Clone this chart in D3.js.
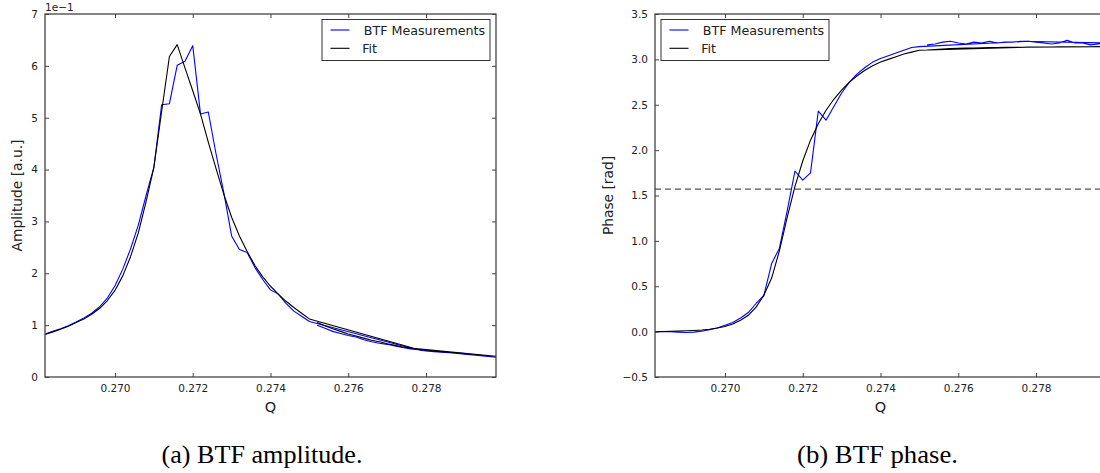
<!DOCTYPE html>
<html>
<head>
<meta charset="utf-8">
<script src="https://cdn.jsdelivr.net/npm/d3@7"></script>
<style>
  html, body { margin: 0; padding: 0; background: #fff; }
  svg { display: block; }
  text { font-family: "DejaVu Sans", sans-serif; fill: #222; }
  .caption { font-family: "Liberation Serif", "Times New Roman", serif; fill: #000; }
</style>
</head>
<body>
<svg id="chart" width="1100" height="473"></svg>
<script>
// ---- data (drawn order of the sweep) ----
const q = [0.2682,0.2684,0.2686,0.2688,0.2690,0.2692,0.2694,0.2696,0.2698,0.2700,
           0.2702,0.2704,0.2706,0.2708,0.2710,0.2712,0.2714,0.2716,0.2718,0.2720,
           0.2722,0.2724,0.2726,0.2728,0.2730,0.2732,0.2734,0.2736,0.2738,0.2740,
           0.2742,0.2744,0.2746,0.2748,0.2750,
           0.2778,0.2780,0.2782,0.2784,0.2786,0.2788,0.2790,0.2792,0.2794,0.2796,0.2798,
           0.2776,0.2774,0.2772,0.2770,0.2768,0.2766,0.2764,0.2762,0.2760,0.2758,0.2756,0.2754,0.2752];

// amplitude in units of 1e-1
const ampMeas = [0.83,0.88,0.93,0.99,1.06,1.14,1.23,1.35,1.52,1.76,
                 2.08,2.47,2.93,3.50,4.04,5.25,5.27,6.01,6.09,6.39,
                 5.07,5.11,4.30,3.55,2.72,2.46,2.40,2.11,1.88,1.68,
                 1.60,1.42,1.27,1.17,1.07,
                 0.52,0.50,0.49,0.48,0.47,0.46,0.45,0.43,0.42,0.40,0.38,
                 0.54,0.57,0.60,0.63,0.65,0.68,0.72,0.77,0.80,0.84,0.88,0.94,1.00];
const ampFit  = [0.82,0.87,0.92,0.98,1.05,1.12,1.21,1.32,1.47,1.67,
                 1.95,2.32,2.78,3.38,4.04,5.12,6.18,6.41,5.96,5.52,
                 5.07,4.53,4.02,3.52,3.08,2.72,2.42,2.15,1.93,1.75,
                 1.60,1.46,1.34,1.23,1.12,
                 0.53,0.52,0.50,0.49,0.48,0.47,0.45,0.44,0.43,0.41,0.40,
                 0.56,0.58,0.61,0.64,0.68,0.71,0.75,0.79,0.83,0.88,0.93,0.99,1.05];

const phaseMeas = [0.00,0.00,0.00,-0.005,-0.01,-0.005,0.005,0.02,0.04,0.07,
                   0.10,0.15,0.21,0.31,0.40,0.75,0.92,1.33,1.77,1.67,
                   1.75,2.43,2.33,2.48,2.63,2.75,2.84,2.91,2.97,3.01,
                   3.04,3.07,3.10,3.13,3.14,
                   3.20,3.19,3.18,3.17,3.18,3.21,3.18,3.18,3.16,3.17,3.18,
                   3.20,3.19,3.19,3.18,3.20,3.18,3.19,3.17,3.18,3.20,3.19,3.17,3.16];
const phaseFit  = [0.000,0.002,0.004,0.006,0.009,0.013,0.018,0.027,0.040,0.057,
                   0.085,0.125,0.18,0.27,0.40,0.59,0.89,1.26,1.60,1.88,
                   2.11,2.29,2.44,2.56,2.66,2.75,2.82,2.88,2.93,2.97,
                   3.00,3.03,3.06,3.08,3.10,
                   3.135,3.136,3.137,3.137,3.138,3.138,3.139,3.139,3.139,3.140,3.140,
                   3.134,3.133,3.132,3.131,3.130,3.128,3.126,3.124,3.121,3.118,3.114,3.109,3.104];

const halfPi = 1.5708;

const xTicks = [0.270, 0.272, 0.274, 0.276, 0.278];
const ampTicks = [0,1,2,3,4,5,6,7];
const phaseTicks = [-0.5,0.0,0.5,1.0,1.5,2.0,2.5,3.0,3.5];
const qDomain = [0.2682, 0.2798];
const legendLabels = ["BTF Measurements", "Fit"];
const captions = ["(a) BTF amplitude.", "(b) BTF phase."];

// ---- drawing ----
const svg = d3.select("#chart");
const spineColor = "#444";

function panel(cfg) {
  const {x0, x1, y0, y1, yDomain, yTicks, yFmt, meas, fit, ylabel, legendX, id} = cfg;
  const x = d3.scaleLinear().domain(qDomain).range([x0, x1]);
  const y = d3.scaleLinear().domain(yDomain).range([y1, y0]);
  const g = svg.append("g");

  g.append("clipPath").attr("id", "clip" + id)
    .append("rect").attr("x", x0).attr("y", y0).attr("width", x1 - x0).attr("height", y1 - y0);

  const plot = g.append("g").attr("clip-path", `url(#clip${id})`);
  const line = (vals) => d3.line().x((d, i) => x(q[i])).y(d => y(d))(vals);

  if (cfg.hline !== undefined) {
    plot.append("line")
      .attr("x1", x0).attr("x2", x1)
      .attr("y1", y(cfg.hline)).attr("y2", y(cfg.hline))
      .attr("stroke", "#555").attr("stroke-width", 1.3)
      .attr("stroke-dasharray", "6,4");
  }
  plot.append("path").attr("d", line(meas))
    .attr("fill", "none").attr("stroke", "#0000ff").attr("stroke-width", 1.1)
    .attr("stroke-linejoin", "round");
  plot.append("path").attr("d", line(fit))
    .attr("fill", "none").attr("stroke", "#000").attr("stroke-width", 1.1)
    .attr("stroke-linejoin", "round");

  // axes (inward ticks on all sides)
  const bottom = g.append("g").attr("transform", `translate(0,${y1})`)
    .call(d3.axisBottom(x).tickValues(xTicks).tickFormat(d3.format(".3f")).tickSizeInner(-4).tickSizeOuter(0).tickPadding(8));
  const top = g.append("g").attr("transform", `translate(0,${y0})`)
    .call(d3.axisTop(x).tickValues(xTicks).tickFormat("").tickSizeInner(-4).tickSizeOuter(0));
  const left = g.append("g").attr("transform", `translate(${x0},0)`)
    .call(d3.axisLeft(y).tickValues(yTicks).tickFormat(yFmt).tickSizeInner(-4).tickSizeOuter(0).tickPadding(7));
  const right = g.append("g").attr("transform", `translate(${x1},0)`)
    .call(d3.axisRight(y).tickValues(yTicks).tickFormat("").tickSizeInner(-4).tickSizeOuter(0));
  [bottom, top, left, right].forEach(a => {
    a.select(".domain").remove();
    a.selectAll("line").attr("stroke", spineColor).attr("stroke-width", 1);
    a.selectAll("text").attr("font-size", 10.5).attr("fill", "#222")
      .attr("font-family", "DejaVu Sans, sans-serif");
  });
  // spines
  g.append("rect").attr("x", x0).attr("y", y0).attr("width", x1 - x0).attr("height", y1 - y0)
    .attr("fill", "none").attr("stroke", spineColor).attr("stroke-width", 1.3);

  // axis labels
  g.append("text").attr("x", (x0 + x1) / 2).attr("y", 412).attr("text-anchor", "middle")
    .attr("font-size", 14.5).text("Q");
  g.append("text")
    .attr("transform", `translate(${cfg.ylabelX},${(y0 + y1) / 2}) rotate(-90)`)
    .attr("text-anchor", "middle").attr("dy", "0.35em").attr("font-size", 13.8).text(ylabel);

  // legend
  const lg = g.append("g");
  lg.append("rect").attr("x", legendX).attr("y", 19.5).attr("width", 168).attr("height", 41)
    .attr("fill", "#fff").attr("stroke", "#333").attr("stroke-width", 1);
  const colors = ["#0000ff", "#000"];
  legendLabels.forEach((lab, i) => {
    const ly = 30 + i * 18.3;
    lg.append("line").attr("x1", legendX + 8.5).attr("x2", legendX + 27.5)
      .attr("y1", ly).attr("y2", ly).attr("stroke", colors[i]).attr("stroke-width", 1.1);
    lg.append("text").attr("x", legendX + (i === 0 ? 41.7 : 40.2)).attr("y", ly).attr("dy", "0.36em")
      .attr("font-size", 12.7).text(lab);
  });
  return {x, y, g};
}

const A = panel({id: "a", x0: 45, x1: 496, y0: 14, y1: 377, yDomain: [0, 7], yTicks: ampTicks,
  yFmt: d3.format("d"), meas: ampMeas, fit: ampFit, ylabel: "Amplitude [a.u.]", ylabelX: 17, legendX: 322});
A.g.append("text").attr("x", 45).attr("y", 11).attr("font-size", 10.5).text("1e\u22121");

const B = panel({id: "b", x0: 655, x1: 1106, y0: 14, y1: 377, yDomain: [-0.5, 3.5], yTicks: phaseTicks,
  yFmt: d => d3.format(".1f")(d).replace("-", "\u2212"), meas: phaseMeas, fit: phaseFit,
  ylabel: "Phase [rad]", ylabelX: 608, legendX: 661, hline: halfPi});

// captions
svg.append("text").attr("class", "caption").attr("x", 161.5).attr("y", 463)
  .attr("font-size", 26).attr("textLength", 201).attr("lengthAdjust", "spacingAndGlyphs").text(captions[0]);
svg.append("text").attr("class", "caption").attr("x", 797).attr("y", 463)
  .attr("font-size", 26).attr("textLength", 161).attr("lengthAdjust", "spacingAndGlyphs").text(captions[1]);
</script>
</body>
</html>
